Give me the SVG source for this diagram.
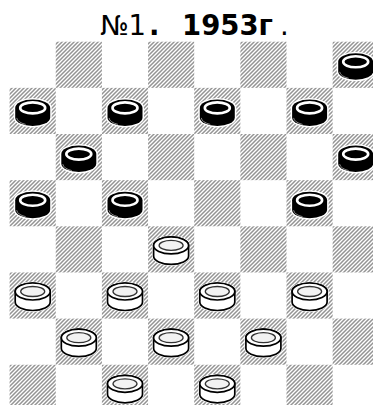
<svg xmlns="http://www.w3.org/2000/svg" xmlns:xlink="http://www.w3.org/1999/xlink" width="373" height="405" viewBox="0 0 373 405">
<style>
.title{font-family:"DejaVu Sans",Verdana,sans-serif;font-size:27.5px;fill:#000}
.b{font-weight:bold}
.dark{fill:url(#hatch)}
.halo{fill:#fff;stroke:#fff;stroke-width:3}
</style>
<defs>
<pattern id="hatch" patternUnits="userSpaceOnUse" width="4" height="4">
<rect width="4" height="4" fill="#fff"/>
<path d="M-1,1 L1,-1 M0,4 L4,0 M3,5 L5,3" stroke="#949494" stroke-width="1.5"/>
</pattern>
<g id="bp">
<path class="halo" d="M-17.5,-3 A17.5,8.5 0 0 1 17.5,-3 L17.5,6.5 A17.5,8.5 0 0 1 -17.5,6.5 Z"/>
<path d="M-17.5,-3 A17.5,8.5 0 0 1 17.5,-3 L17.5,6.5 A17.5,8.5 0 0 1 -17.5,6.5 Z" fill="#000"/>
<ellipse cx="0" cy="-3" rx="12.5" ry="5.5" fill="#000" stroke="#fff" stroke-width="2.6"/>
<path d="M-16,7 A17,8 0 0 0 -7,13.5" fill="none" stroke="#888" stroke-width="1"/>
</g>
<g id="wp">
<path class="halo" d="M-17.5,-4 A17.5,8.5 0 0 1 17.5,-4 L17.5,6.5 A17.5,8.5 0 0 1 -17.5,6.5 Z"/>
<path d="M-17.5,-4 A17.5,8.5 0 0 1 17.5,-4 L17.5,6.5 A17.5,8.5 0 0 1 -17.5,6.5 Z" fill="#fff" stroke="#000" stroke-width="1.7"/>
<ellipse cx="0" cy="-4" rx="17.5" ry="8.5" fill="#fff" stroke="#000" stroke-width="1.7"/>
<ellipse cx="0" cy="-4" rx="12" ry="5" fill="#f2f2f2" stroke="#333" stroke-width="1.3"/>
</g>
</defs>
<rect width="373" height="405" fill="#fff"/>
<g id="title">
<text class="title" x="100" y="35">№1</text>
<text class="title b" x="149" y="35">.</text>
<text class="title b" x="182" y="35">1953г</text>
<text class="title" x="280" y="35">.</text>
</g>
<g id="board">
<rect class="dark" x="55.75" y="41.7" width="46.15" height="46.15"/>
<rect class="dark" x="148.05" y="41.7" width="46.15" height="46.15"/>
<rect class="dark" x="240.35" y="41.7" width="46.15" height="46.15"/>
<rect class="dark" x="332.65" y="41.7" width="46.15" height="46.15"/>
<rect class="dark" x="9.6" y="87.85" width="46.15" height="46.15"/>
<rect class="dark" x="101.9" y="87.85" width="46.15" height="46.15"/>
<rect class="dark" x="194.2" y="87.85" width="46.15" height="46.15"/>
<rect class="dark" x="286.5" y="87.85" width="46.15" height="46.15"/>
<rect class="dark" x="55.75" y="134" width="46.15" height="46.15"/>
<rect class="dark" x="148.05" y="134" width="46.15" height="46.15"/>
<rect class="dark" x="240.35" y="134" width="46.15" height="46.15"/>
<rect class="dark" x="332.65" y="134" width="46.15" height="46.15"/>
<rect class="dark" x="9.6" y="180.15" width="46.15" height="46.15"/>
<rect class="dark" x="101.9" y="180.15" width="46.15" height="46.15"/>
<rect class="dark" x="194.2" y="180.15" width="46.15" height="46.15"/>
<rect class="dark" x="286.5" y="180.15" width="46.15" height="46.15"/>
<rect class="dark" x="55.75" y="226.3" width="46.15" height="46.15"/>
<rect class="dark" x="148.05" y="226.3" width="46.15" height="46.15"/>
<rect class="dark" x="240.35" y="226.3" width="46.15" height="46.15"/>
<rect class="dark" x="332.65" y="226.3" width="46.15" height="46.15"/>
<rect class="dark" x="9.6" y="272.45" width="46.15" height="46.15"/>
<rect class="dark" x="101.9" y="272.45" width="46.15" height="46.15"/>
<rect class="dark" x="194.2" y="272.45" width="46.15" height="46.15"/>
<rect class="dark" x="286.5" y="272.45" width="46.15" height="46.15"/>
<rect class="dark" x="55.75" y="318.6" width="46.15" height="46.15"/>
<rect class="dark" x="148.05" y="318.6" width="46.15" height="46.15"/>
<rect class="dark" x="240.35" y="318.6" width="46.15" height="46.15"/>
<rect class="dark" x="332.65" y="318.6" width="46.15" height="46.15"/>
<rect class="dark" x="9.6" y="364.75" width="46.15" height="46.15"/>
<rect class="dark" x="101.9" y="364.75" width="46.15" height="46.15"/>
<rect class="dark" x="194.2" y="364.75" width="46.15" height="46.15"/>
<rect class="dark" x="286.5" y="364.75" width="46.15" height="46.15"/>
</g>
<g id="connectors"></g>
<g id="black-h8"><use xlink:href="#bp" x="355.7" y="64.8"/></g>
<g id="black-a7"><use xlink:href="#bp" x="32.7" y="110.9"/></g>
<g id="black-c7"><use xlink:href="#bp" x="125" y="110.9"/></g>
<g id="black-e7"><use xlink:href="#bp" x="217.3" y="110.9"/></g>
<g id="black-g7"><use xlink:href="#bp" x="309.6" y="110.9"/></g>
<g id="black-b6"><use xlink:href="#bp" x="78.8" y="157.1"/></g>
<g id="black-h6"><use xlink:href="#bp" x="355.7" y="157.1"/></g>
<g id="black-a5"><use xlink:href="#bp" x="32.7" y="203.2"/></g>
<g id="black-c5"><use xlink:href="#bp" x="125" y="203.2"/></g>
<g id="black-g5"><use xlink:href="#bp" x="309.6" y="203.2"/></g>
<g id="white-d4"><use xlink:href="#wp" x="171.1" y="249.4"/></g>
<g id="white-a3"><use xlink:href="#wp" x="32.7" y="295.5"/></g>
<g id="white-c3"><use xlink:href="#wp" x="125" y="295.5"/></g>
<g id="white-e3"><use xlink:href="#wp" x="217.3" y="295.5"/></g>
<g id="white-g3"><use xlink:href="#wp" x="309.6" y="295.5"/></g>
<g id="white-b2"><use xlink:href="#wp" x="78.8" y="341.7"/></g>
<g id="white-d2"><use xlink:href="#wp" x="171.1" y="341.7"/></g>
<g id="white-f2"><use xlink:href="#wp" x="263.4" y="341.7"/></g>
<g id="white-c1"><use xlink:href="#wp" x="125" y="387.8"/></g>
<g id="white-e1"><use xlink:href="#wp" x="217.3" y="387.8"/></g>
</svg>
